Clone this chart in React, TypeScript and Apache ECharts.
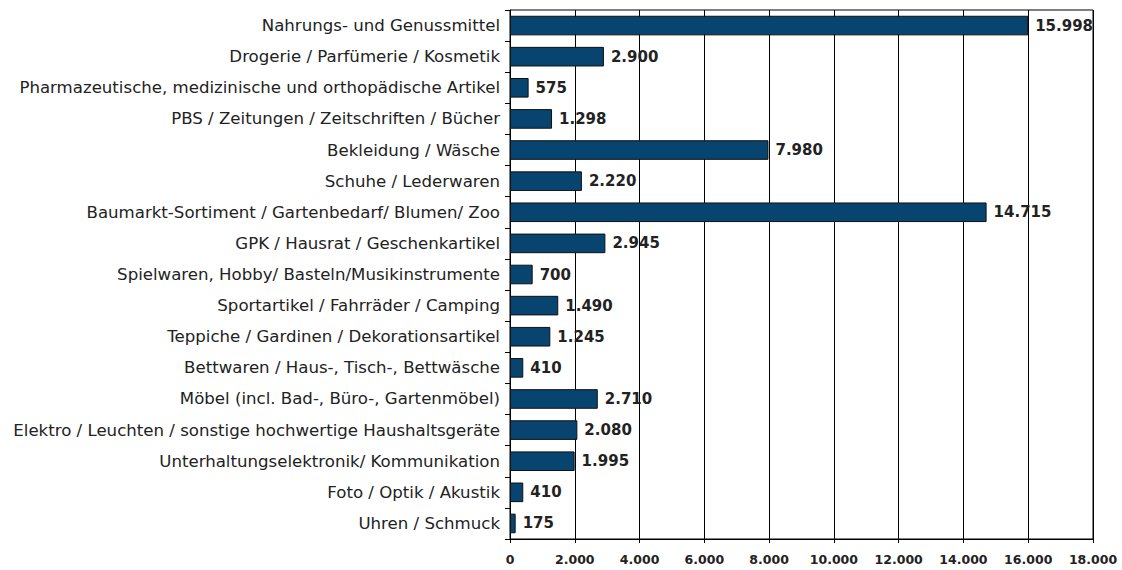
import React, { useEffect, useRef } from "react";
import * as echarts from "echarts";

const categories = [
  "Nahrungs- und Genussmittel",
  "Drogerie / Parfümerie / Kosmetik",
  "Pharmazeutische, medizinische und orthopädische Artikel",
  "PBS / Zeitungen / Zeitschriften / Bücher",
  "Bekleidung / Wäsche",
  "Schuhe / Lederwaren",
  "Baumarkt-Sortiment / Gartenbedarf/ Blumen/ Zoo",
  "GPK / Hausrat / Geschenkartikel",
  "Spielwaren, Hobby/ Basteln/Musikinstrumente",
  "Sportartikel / Fahrräder / Camping",
  "Teppiche / Gardinen / Dekorationsartikel",
  "Bettwaren / Haus-, Tisch-, Bettwäsche",
  "Möbel (incl. Bad-, Büro-, Gartenmöbel)",
  "Elektro / Leuchten / sonstige hochwertige Haushaltsgeräte",
  "Unterhaltungselektronik/ Kommunikation",
  "Foto / Optik / Akustik",
  "Uhren / Schmuck",
];

const values = [15998, 2900, 575, 1298, 7980, 2220, 14715, 2945, 700, 1490, 1245, 410, 2710, 2080, 1995, 410, 175];

const axisMin = 0;
const axisMax = 18000;
const axisStep = 2000;

const fmt = (v: number) => String(Math.round(v)).replace(/\B(?=(\d{3})+(?!\d))/g, ".");

export default function App() {
  const ref = useRef<HTMLDivElement>(null);
  useEffect(() => {
    if (!ref.current) return;
    const chart = echarts.init(ref.current, undefined, { renderer: "svg" });
    chart.setOption({
      animation: false,
      backgroundColor: "#ffffff",
      grid: {
        left: 510,
        right: 29,
        top: 10,
        bottom: 31,
        show: true,
        borderColor: "#000",
        borderWidth: 1,
      },
      xAxis: {
        type: "value",
        min: axisMin,
        max: axisMax,
        interval: axisStep,
        axisLine: { show: true, lineStyle: { color: "#000", width: 1 } },
        axisTick: { show: true, length: 4, lineStyle: { color: "#000" } },
        splitLine: { show: true, lineStyle: { color: "#000", width: 1 } },
        axisLabel: {
          formatter: (v: number) => fmt(v),
          fontFamily: "DejaVu Sans",
          fontWeight: "bold",
          fontSize: 12.5,
          color: "#222",
          margin: 14,
        },
      },
      yAxis: {
        type: "category",
        data: categories,
        inverse: true,
        axisLine: { show: true, lineStyle: { color: "#000", width: 1 } },
        axisTick: { show: true, length: 5, lineStyle: { color: "#000" } },
        splitLine: { show: false },
        axisLabel: {
          fontFamily: "DejaVu Sans",
          fontSize: 16.6,
          color: "#222",
          margin: 10,
        },
      },
      series: [
        {
          type: "bar",
          data: values,
          barCategoryGap: "37%",
          itemStyle: { color: "#084470", borderColor: "#111", borderWidth: 1 },
          label: {
            show: true,
            position: "right",
            distance: 7,
            formatter: (p: any) => fmt(p.value),
            fontFamily: "DejaVu Sans",
            fontWeight: "bold",
            fontSize: 15,
            color: "#222",
          },
        },
      ],
    });
    return () => chart.dispose();
  }, []);
  return (
    <div
      ref={ref}
      style={{ position: "fixed", left: 0, top: 0, width: 1122, height: 570, background: "#fff" }}
    />
  );
}
